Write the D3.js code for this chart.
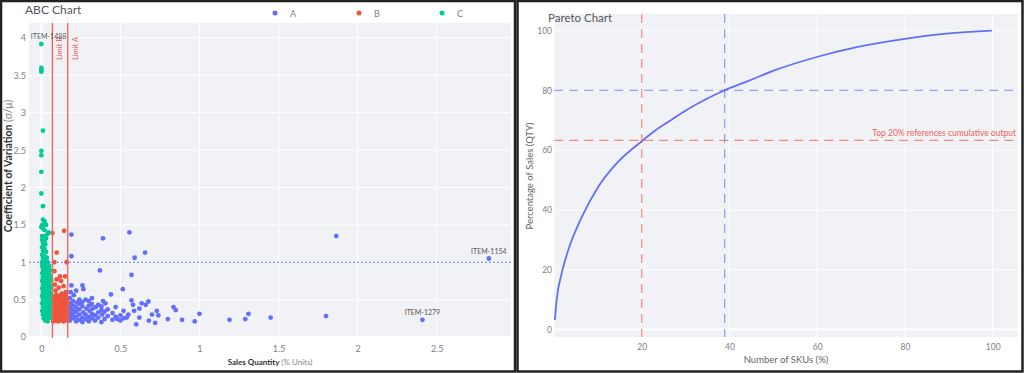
<!DOCTYPE html>
<html>
<head>
<meta charset="utf-8">
<script src="https://cdn.jsdelivr.net/npm/d3@7"></script>
<style>
  body { margin: 0; background: #fff; }
  svg { display: block; font-family: Lato, "Noto Sans", sans-serif; }
</style>
</head>
<body>
<div id="chart"></div>
<script>
// ABC chart data: [sales quantity (% units), coefficient of variation]
var classA = [
  [2.83,1.05],[2.41,0.23],[1.865,1.35],[1.45,0.26],[1.80,0.28],[1.31,0.31],[1.29,0.24],[1.19,0.23],
  [1.0,0.31],[0.97,0.21],[0.89,0.23],[0.85,0.36],[0.836,0.40],[0.80,0.24],[0.74,0.29],[0.73,0.35],
  [0.72,0.19],[0.677,0.475],[0.66,0.43],[0.635,0.45],[0.60,0.17],[0.587,0.35],[0.58,0.43],[0.57,0.49],
  [0.54,0.26],[0.515,0.64],[0.50,0.22],[0.50,0.29],[0.48,0.24],[0.44,0.57],[0.39,0.48],[0.38,0.36],
  [0.37,0.89],[0.57,0.83],[0.59,1.06],[0.656,1.13],[0.19,1.08],[0.19,1.37],[0.39,1.32],[0.557,1.40],
  [0.26,0.69],[0.266,0.64],[0.22,0.62],[0.19,0.69],[0.36,0.43],[0.32,0.44],[0.30,0.48],
  [0.18,0.22],[0.18,0.28],[0.18,0.33],[0.18,0.39],[0.18,0.45],[0.18,0.52],[0.185,0.60],
  [0.20,0.25],[0.20,0.31],[0.20,0.36],[0.20,0.42],[0.20,0.48],[0.205,0.56],
  [0.22,0.21],[0.22,0.27],[0.22,0.34],[0.22,0.40],[0.225,0.46],
  [0.24,0.23],[0.24,0.30],[0.24,0.37],[0.245,0.44],[0.24,0.50],
  [0.26,0.20],[0.26,0.26],[0.265,0.33],[0.26,0.41],[0.26,0.47],
  [0.28,0.24],[0.28,0.30],[0.285,0.38],[0.28,0.50],
  [0.30,0.21],[0.30,0.27],[0.305,0.35],[0.30,0.42],
  [0.32,0.25],[0.32,0.31],[0.325,0.38],[0.32,0.52],
  [0.34,0.22],[0.34,0.29],[0.345,0.40],[0.36,0.26],[0.36,0.33],
  [0.38,0.20],[0.385,0.30],[0.38,0.41],[0.40,0.24],[0.40,0.34],[0.405,0.45],
  [0.42,0.28],[0.42,0.37],[0.45,0.23],[0.45,0.32],[0.47,0.27],[0.47,0.40],
  [0.52,0.25],[0.52,0.35],[0.55,0.30],[0.62,0.26],[0.62,0.38],[0.68,0.22],[0.70,0.30]
];
var classB = [
  [0.07,1.39],[0.144,1.42],[0.097,1.13],[0.082,1.0],[0.16,1.0],[0.082,0.88],[0.118,0.81],[0.15,0.81],
  [0.125,0.75],[0.097,0.77],[0.085,0.70],[0.14,0.68],[0.11,0.66],[0.09,0.62],[0.155,0.60],[0.13,0.58],
  [0.075,0.55],[0.095,0.56],[0.115,0.55],[0.135,0.56],[0.155,0.55],
  [0.075,0.50],[0.09,0.51],[0.105,0.50],[0.12,0.51],[0.14,0.50],[0.16,0.50],
  [0.078,0.45],[0.095,0.46],[0.112,0.45],[0.13,0.46],[0.148,0.45],[0.165,0.46],
  [0.075,0.40],[0.09,0.41],[0.105,0.40],[0.12,0.41],[0.14,0.40],[0.16,0.41],
  [0.078,0.35],[0.095,0.36],[0.112,0.35],[0.13,0.36],[0.148,0.35],[0.165,0.36],
  [0.075,0.30],[0.09,0.31],[0.105,0.30],[0.12,0.31],[0.14,0.30],[0.16,0.31],
  [0.078,0.25],[0.095,0.26],[0.112,0.25],[0.13,0.26],[0.148,0.25],[0.165,0.26],
  [0.075,0.21],[0.09,0.22],[0.105,0.21],[0.12,0.22],[0.14,0.21],[0.16,0.22]
];
var classC = [
  [0.0,3.92],[0.0,3.60],[0.0,3.57],[0.0,3.55],[0.01,2.76],[0.0,2.49],[0.0,2.43],[0.0,2.21],
  [0.0,1.92],[0.01,1.75],[0.01,1.57],[0.02,1.55],[0.005,1.50],[0.03,1.50],[0.0,1.47],[0.01,1.45],
  [0.02,1.43],[0.045,1.40],[0.04,1.38],[0.005,1.35],[0.025,1.35],[0.015,1.33],[0.03,1.32],[0.005,1.30],
  [0.02,1.28],[0.01,1.26],[0.025,1.24],[0.015,1.22],[0.005,1.20],[0.02,1.18],[0.01,1.15],[0.03,1.14],
  [0.005,1.10],[0.02,1.08],[0.035,1.06],[0.01,1.05],[0.025,1.02],[0.005,1.00],[0.04,1.00],[0.015,0.98],
  [0.005,0.95],[0.02,0.95],[0.035,0.94],[0.05,0.95],
  [0.01,0.90],[0.025,0.91],[0.04,0.90],[0.055,0.89],
  [0.005,0.85],[0.02,0.86],[0.035,0.85],[0.05,0.84],
  [0.01,0.80],[0.025,0.81],[0.04,0.80],[0.055,0.80],
  [0.005,0.75],[0.02,0.76],[0.035,0.75],[0.05,0.74],[0.062,0.76],
  [0.01,0.70],[0.025,0.71],[0.04,0.70],[0.055,0.69],
  [0.005,0.65],[0.02,0.66],[0.035,0.65],[0.05,0.64],[0.062,0.66],
  [0.01,0.60],[0.025,0.61],[0.04,0.60],[0.055,0.59],
  [0.005,0.55],[0.02,0.56],[0.035,0.55],[0.05,0.54],[0.062,0.56],
  [0.01,0.50],[0.025,0.51],[0.04,0.50],[0.055,0.49],
  [0.005,0.45],[0.02,0.46],[0.035,0.45],[0.05,0.44],[0.062,0.46],
  [0.01,0.40],[0.025,0.41],[0.04,0.40],[0.055,0.39],
  [0.005,0.35],[0.02,0.36],[0.035,0.35],[0.05,0.34],[0.062,0.36],
  [0.01,0.30],[0.025,0.31],[0.04,0.30],[0.055,0.29],
  [0.015,0.25],[0.03,0.26],[0.045,0.25],[0.06,0.26],[0.025,0.22],[0.04,0.21]
];
var abcXTicks = [0, 0.5, 1, 1.5, 2, 2.5];
var abcYTicks = [0, 0.5, 1, 1.5, 2, 2.5, 3, 3.5, 4];
var limitB = 0.07, limitA = 0.167, cvLimit = 1;
var abcNotes = [
  {label: "ITEM-1488", x: 0.046, y: 3.92},
  {label: "ITEM-1154", x: 2.83, y: 1.05},
  {label: "ITEM-1279", x: 2.41, y: 0.23}
];

// Pareto chart data
var paretoSku = [0.2, 0.6, 1.75, 3.26, 6.3, 10.1, 13.9, 20, 23, 26.8, 30.6, 34.5, 38.8, 44.3, 50.4, 59.9, 69, 79.6, 89.5, 99.8];
var paretoPct = [3.2, 9.9, 18.8, 26.6, 37.5, 47.8, 55, 63, 66.5, 70.2, 73.8, 77, 80, 83.2, 86.8, 91.2, 94.5, 97.2, 99.0, 100];
var paretoXTicks = [20, 40, 60, 80, 100];
var paretoYTicks = [0, 20, 40, 60, 80, 100];
var top20X = 20, top20Y = 63.3, cut80X = 38.9, cut80Y = 80;

var blue = "#636EFA", red = "#EF553B", green = "#00CC96";
var plotBg = "#F0F2F6", tickCol = "#7f8088", titleCol = "#555761";

var svg = d3.select("#chart").append("svg")
  .attr("width", 1024).attr("height", 373);

// panel frames
svg.append("rect").attr("x", 1).attr("y", 1).attr("width", 514).attr("height", 370.5)
  .attr("fill", "#fff").attr("stroke", "#222").attr("stroke-width", 2.5);
svg.append("rect").attr("x", 517.5).attr("y", 1).attr("width", 505).attr("height", 370.5)
  .attr("fill", "#fff").attr("stroke", "#222").attr("stroke-width", 2.5);

// ---------- ABC chart ----------
var xL = d3.scaleLinear().domain([-0.078, 2.97]).range([29, 511]);
var yL = d3.scaleLinear().domain([0, 4]).range([337, 38]);
var gL = svg.append("g");

gL.append("rect").attr("x", 29).attr("y", 23).attr("width", 482).attr("height", 315).attr("fill", plotBg);

gL.append("g").selectAll("line").data(abcXTicks).join("line")
  .attr("x1", d => xL(d)).attr("x2", d => xL(d)).attr("y1", 23).attr("y2", 338)
  .attr("stroke", "#fff").attr("stroke-width", d => d === 0 ? 2 : 1);
gL.append("g").selectAll("line").data(abcYTicks).join("line")
  .attr("x1", 29).attr("x2", 511).attr("y1", d => yL(d)).attr("y2", d => yL(d))
  .attr("stroke", "#fff").attr("stroke-width", d => d === 0 ? 2 : 1);

var axL = gL.append("g").attr("transform", "translate(0,338)")
  .call(d3.axisBottom(xL).tickValues(abcXTicks).tickSize(0).tickPadding(8).tickFormat(d3.format("")));
var ayL = gL.append("g").attr("transform", "translate(29,0)")
  .call(d3.axisLeft(yL).tickValues(abcYTicks).tickSize(0).tickPadding(3).tickFormat(d3.format("")));
[axL, ayL].forEach(function(a) {
  a.select(".domain").remove();
  a.selectAll("text").attr("fill", tickCol).style("font-size", "9px").style("font-family", "Lato, sans-serif");
});

function dots(data, color) {
  gL.append("g").selectAll("circle").data(data).join("circle")
    .attr("cx", d => xL(d[0])).attr("cy", d => yL(d[1])).attr("r", 2.4).attr("fill", color);
}
dots(classA, blue);
dots(classB, red);
dots(classC, green);

// limit lines
[limitB, limitA].forEach(function(v) {
  gL.append("line").attr("x1", xL(v)).attr("x2", xL(v)).attr("y1", 23).attr("y2", 338)
    .attr("stroke", "#f2605a").attr("stroke-width", 1.3);
});
[["Limit B", limitB], ["Limit A", limitA]].forEach(function(l) {
  gL.append("text").attr("transform", "translate(" + (xL(l[1]) + 10) + ",37) rotate(-90)")
    .attr("text-anchor", "end").attr("fill", "#f2605a").style("font-size", "7.5px").text(l[0]);
});
gL.append("line").attr("x1", 29).attr("x2", 511).attr("y1", yL(cvLimit)).attr("y2", yL(cvLimit))
  .attr("stroke", blue).attr("stroke-width", 1.2).attr("stroke-dasharray", "2,2");

gL.selectAll(".note").data(abcNotes).join("text")
  .attr("x", d => xL(d.x)).attr("y", d => yL(d.y) - 4.5)
  .attr("text-anchor", "middle").attr("fill", "#555").style("font-size", "7px").text(d => d.label);

// titles and legend
gL.append("text").attr("x", 25).attr("y", 14).attr("fill", titleCol).style("font-size", "12px").text("ABC Chart");
var legend = [["A", blue, 275], ["B", red, 359], ["C", green, 442]];
legend.forEach(function(l) {
  gL.append("circle").attr("cx", l[2]).attr("cy", 13).attr("r", 2.5).attr("fill", l[1]);
  gL.append("text").attr("x", l[2] + 15).attr("y", 16.5).attr("fill", tickCol).style("font-size", "9px").text(l[0]);
});
var ytL = gL.append("text").attr("transform", "translate(12,166) rotate(-90)")
  .attr("text-anchor", "middle").style("font-size", "10.5px");
ytL.append("tspan").attr("fill", "#333").style("font-weight", "bold").text("Coefficient of Variation ");
ytL.append("tspan").attr("fill", "#888").text("(σ/μ)");
var xtL = gL.append("text").attr("x", 270).attr("y", 365).attr("text-anchor", "middle").style("font-size", "8px");
xtL.append("tspan").attr("fill", "#333").style("font-weight", "bold").text("Sales Quantity ");
xtL.append("tspan").attr("fill", "#888").text("(% Units)");

// ---------- Pareto chart ----------
var xR = d3.scaleLinear().domain([0, 100]).range([554, 992.7]);
var yR = d3.scaleLinear().domain([0, 100]).range([329.5, 30.7]);
var gR = svg.append("g");

gR.append("rect").attr("x", 554.3).attr("y", 14).attr("width", 464).attr("height", 323).attr("fill", plotBg);
gR.append("g").selectAll("line").data(paretoXTicks).join("line")
  .attr("x1", d => xR(d)).attr("x2", d => xR(d)).attr("y1", 14).attr("y2", 337)
  .attr("stroke", "#fff").attr("stroke-width", 1);
gR.append("g").selectAll("line").data(paretoYTicks).join("line")
  .attr("x1", 554.3).attr("x2", 1018.3).attr("y1", d => yR(d)).attr("y2", d => yR(d))
  .attr("stroke", "#fff").attr("stroke-width", d => d === 0 ? 2 : 1);

var axR = gR.append("g").attr("transform", "translate(0,337)")
  .call(d3.axisBottom(xR).tickValues(paretoXTicks).tickSize(0).tickPadding(7));
var ayR = gR.append("g").attr("transform", "translate(554,0)")
  .call(d3.axisLeft(yR).tickValues(paretoYTicks).tickSize(0).tickPadding(2));
[axR, ayR].forEach(function(a) {
  a.select(".domain").remove();
  a.selectAll("text").attr("fill", tickCol).style("font-size", "8.5px").style("font-family", "Lato, sans-serif");
});

var pareto = paretoSku.map((s, i) => [s, paretoPct[i]]);
gR.append("path").datum(pareto)
  .attr("d", d3.line().x(d => xR(d[0])).y(d => yR(d[1])).curve(d3.curveMonotoneX))
  .attr("fill", "none").attr("stroke", blue).attr("stroke-width", 1.8);

function vdash(v, color) {
  gR.append("line").attr("x1", xR(v)).attr("x2", xR(v)).attr("y1", 14).attr("y2", 337)
    .attr("stroke", color).attr("stroke-opacity", 0.65).attr("stroke-width", 1.3).attr("stroke-dasharray", "9,6");
}
function hdash(v, color) {
  gR.append("line").attr("x1", 554.3).attr("x2", 1018.3).attr("y1", yR(v)).attr("y2", yR(v))
    .attr("stroke", color).attr("stroke-opacity", 0.65).attr("stroke-width", 1.3).attr("stroke-dasharray", "9,6");
}
vdash(top20X, red);
hdash(top20Y, red);
vdash(cut80X, blue);
hdash(cut80Y, blue);

gR.append("text").attr("x", 1016).attr("y", yR(top20Y) - 4).attr("text-anchor", "end")
  .attr("fill", "#f2605a").style("font-size", "8.5px").text("Top 20% references cumulative output");

gR.append("text").attr("x", 548).attr("y", 22).attr("fill", titleCol).style("font-size", "11.5px").text("Pareto Chart");
gR.append("text").attr("transform", "translate(533,176) rotate(-90)").attr("text-anchor", "middle")
  .attr("fill", "#666").style("font-size", "9.5px").text("Percentage of Sales (QTY)");
gR.append("text").attr("x", 786).attr("y", 363).attr("text-anchor", "middle")
  .attr("fill", "#666").style("font-size", "9.5px").text("Number of SKUs (%)");
</script>
</body>
</html>
